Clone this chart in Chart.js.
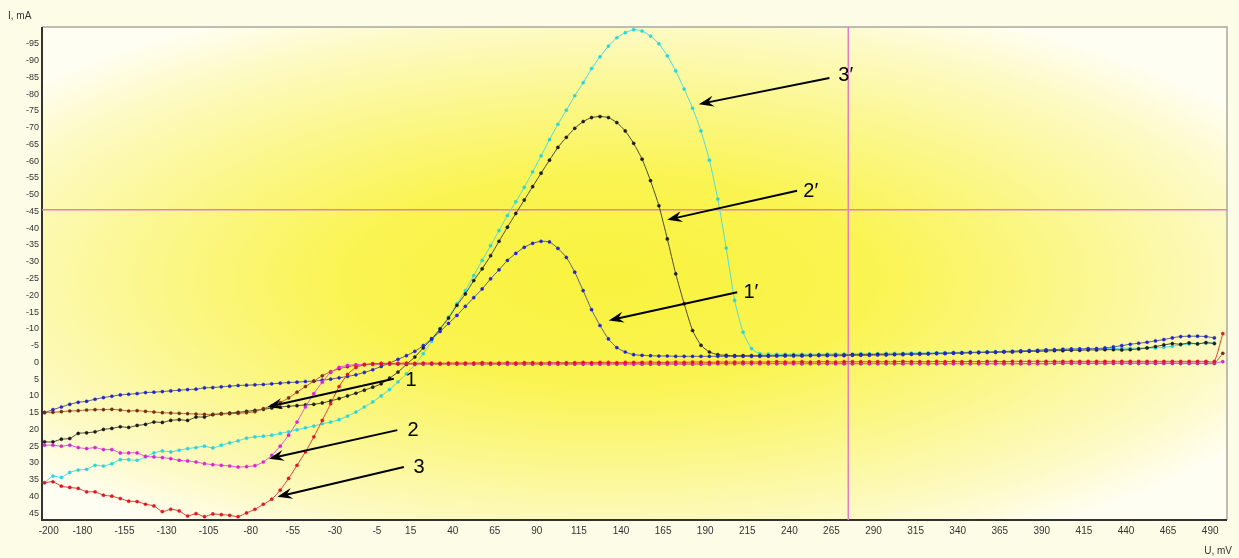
<!DOCTYPE html>
<html>
<head>
<meta charset="utf-8">
<title>I(U)</title>
<script src="https://cdn.jsdelivr.net/npm/chart.js@4.4.1/dist/chart.umd.min.js"></script>
<style>
  html, body { margin: 0; padding: 0; background: #fdfce6; }
  #wrap { width: 1239px; height: 558px; position: relative; }
</style>
</head>
<body>
<div id="wrap"><canvas id="ivChart"></canvas></div>
<script>
// Potencial U, mV (un punto cada 5 mV)
const potential = [
  -202.5,-197.5,-192.5,-187.5,-182.5,-177.5,-172.5,-167.5,-162.5,-157.5,
  -152.5,-147.5,-142.5,-137.5,-132.5,-127.5,-122.5,-117.5,-112.5,-107.5,
  -102.5,-97.5,-92.5,-87.5,-82.5,-77.5,-72.5,-67.5,-62.5,-57.5,
  -52.5,-47.5,-42.5,-37.5,-32.5,-27.5,-22.5,-17.5,-12.5,-7.5,
  -2.5,2.5,7.5,12.5,17.5,22.5,27.5,32.5,37.5,42.5,
  47.5,52.5,57.5,62.5,67.5,72.5,77.5,82.5,87.5,92.5,
  97.5,102.5,107.5,112.5,117.5,122.5,127.5,132.5,137.5,142.5,
  147.5,152.5,157.5,162.5,167.5,172.5,177.5,182.5,187.5,192.5,
  197.5,202.5,207.5,212.5,217.5,222.5,227.5,232.5,237.5,242.5,
  247.5,252.5,257.5,262.5,267.5,272.5,277.5,282.5,287.5,292.5,
  297.5,302.5,307.5,312.5,317.5,322.5,327.5,332.5,337.5,342.5,
  347.5,352.5,357.5,362.5,367.5,372.5,377.5,382.5,387.5,392.5,
  397.5,402.5,407.5,412.5,417.5,422.5,427.5,432.5,437.5,442.5,
  447.5,452.5,457.5,462.5,467.5,472.5,477.5,482.5,487.5,492.5,
  497.5
];

// Corriente I, mA - curva azul (pico 1')
const blueCurve = [
  15.0,14.1,13.3,12.5,11.9,11.6,11.0,10.5,10.1,9.7,
  9.5,9.3,9.0,8.9,8.7,8.5,8.3,8.1,8.0,7.6,
  7.5,7.3,7.1,6.9,6.8,6.7,6.6,6.4,6.2,6.0,
  5.9,5.7,5.6,5.3,5.0,4.6,4.2,3.7,3.0,2.2,
  1.2,0.2,-0.9,-2.0,-3.3,-5.0,-7.0,-9.2,-11.6,-14.0,
  -16.7,-19.3,-21.9,-24.9,-27.6,-30.4,-32.5,-34.3,-35.5,-36.1,
  -35.9,-34.0,-31.3,-26.9,-21.4,-15.7,-11.0,-7.0,-4.4,-3.1,
  -2.3,-2.1,-2.0,-1.9,-1.9,-1.8,-1.8,-1.8,-1.8,-1.8,
  -1.8,-1.8,-1.8,-1.8,-1.8,-1.8,-1.8,-1.9,-1.9,-1.9,
  -1.9,-2.0,-2.0,-2.0,-2.0,-2.0,-2.1,-2.1,-2.1,-2.2,
  -2.2,-2.3,-2.3,-2.4,-2.4,-2.5,-2.6,-2.6,-2.7,-2.8,
  -2.9,-3.0,-3.0,-3.1,-3.2,-3.3,-3.4,-3.5,-3.6,-3.7,
  -3.8,-3.9,-4.0,-4.0,-4.1,-4.1,-4.3,-4.6,-5.0,-5.4,
  -5.7,-6.0,-6.4,-6.8,-7.3,-7.7,-7.8,-7.8,-7.7,-7.3,
  null
];

// curva negra (pico 2')
const blackCurve = [
  23.7,23.7,22.9,22.7,21.2,21.0,20.7,20.0,19.7,19.2,
  19.4,18.8,18.5,17.8,17.9,17.3,17.1,17.3,16.3,16.3,
  15.6,15.3,15.1,14.9,14.6,14.3,14.0,13.6,13.3,13.1,
  12.9,12.7,12.5,12.1,11.5,10.8,10.0,9.2,8.3,7.4,
  6.4,4.7,2.9,0.6,-1.6,-4.3,-7.0,-10.0,-13.2,-17.0,
  -20.4,-24.4,-27.9,-31.8,-36.1,-40.3,-44.4,-48.4,-52.4,-56.4,
  -60.3,-64.1,-67.1,-69.8,-71.8,-73.0,-73.3,-73.0,-71.5,-69.0,
  -65.3,-60.6,-54.2,-46.7,-36.8,-26.4,-17.5,-9.5,-5.1,-3.1,
  -2.3,-2.1,-2.0,-2.0,-2.0,-2.0,-2.0,-2.0,-2.1,-2.1,
  -2.1,-2.1,-2.2,-2.2,-2.2,-2.2,-2.3,-2.3,-2.3,-2.4,
  -2.4,-2.4,-2.5,-2.5,-2.6,-2.6,-2.7,-2.7,-2.8,-2.8,
  -2.9,-2.9,-3.0,-3.0,-3.1,-3.1,-3.2,-3.3,-3.3,-3.4,
  -3.5,-3.5,-3.6,-3.6,-3.7,-3.7,-3.8,-3.8,-3.7,-3.8,
  -4.0,-4.3,-4.7,-5.2,-5.6,-5.4,-5.8,-5.5,-5.9,-5.6,
  null
];

// curva cian (pico 3')
const cyanCurve = [
  35.9,33.9,34.3,32.8,32.1,31.9,30.7,30.9,30.2,29.0,
  29.0,29.2,28.2,27.0,26.4,26.7,26.2,25.7,25.4,25.0,
  25.5,24.7,24.0,23.4,22.6,22.2,22.0,21.7,21.2,20.7,
  20.1,19.5,19.0,18.3,17.8,17.1,16.0,14.8,13.3,11.8,
  10.0,8.1,5.8,3.4,0.7,-2.6,-6.3,-10.0,-13.5,-17.5,
  -21.4,-25.9,-30.4,-34.8,-39.3,-43.8,-47.9,-52.2,-56.8,-61.6,
  -66.4,-71.0,-75.2,-79.5,-83.4,-87.6,-91.1,-94.3,-96.8,-98.3,
  -99.2,-98.8,-97.3,-95.0,-91.4,-86.9,-81.5,-75.8,-69.0,-60.3,
  -48.7,-34.1,-18.5,-9.0,-4.1,-2.6,-2.5,-2.4,-2.4,-2.4,
  -2.4,-2.4,-2.4,-2.5,-2.5,-2.5,-2.5,-2.6,-2.6,-2.6,
  -2.7,-2.7,-2.7,-2.8,-2.8,-2.8,-2.9,-2.9,-3.0,-3.0,
  -3.1,-3.1,-3.2,-3.2,-3.3,-3.3,-3.4,-3.5,-3.6,-3.7,
  -3.8,-3.9,-3.9,-4.0,-4.0,-4.1,-4.1,-4.1,-4.2,-4.2,
  -4.2,-4.3,-4.3,-4.5,-4.8,-5.2,-5.5,-5.6,-5.7,-5.8,
  null
];

// curva marron (1)
const brownCurve = [
  14.9,14.9,14.7,14.5,14.4,14.2,14.1,14.1,14.0,14.2,
  14.5,14.4,14.6,14.8,15.0,15.1,15.2,15.3,15.4,15.5,
  15.5,15.4,15.3,15.2,15.0,14.7,13.8,13.0,12.0,10.6,
  8.9,7.2,5.6,4.0,2.8,1.9,1.3,0.9,0.7,0.6,
  0.5,0.5,0.5,0.5,0.5,0.5,0.5,0.5,0.5,0.5,
  0.5,0.5,0.5,0.5,0.5,0.5,0.5,0.5,0.5,0.5,
  0.5,0.5,0.5,0.5,0.5,0.5,0.5,0.5,0.5,0.5,
  0.5,0.5,0.5,0.5,0.5,0.5,0.5,0.5,0.5,0.5,
  0.4,0.4,0.4,0.4,0.4,0.4,0.4,0.4,0.4,0.4,
  0.4,0.4,0.4,0.4,0.4,0.4,0.4,0.4,0.4,0.4,
  0.4,0.4,0.4,0.4,0.4,0.4,0.4,0.4,0.4,0.4,
  0.4,0.4,0.4,0.4,0.4,0.4,0.4,0.4,0.4,0.4,
  0.3,0.3,0.3,0.3,0.3,0.3,0.3,0.3,0.3,0.3,
  0.3,0.3,0.3,0.3,0.3,0.3,0.3,0.3,0.3,0.3,
  -2.7
];

// curva magenta (2)
const magentaCurve = [
  24.7,24.7,25.0,24.7,25.4,25.7,25.4,26.0,26.0,27.0,
  27.0,27.0,28.0,28.2,28.4,28.7,29.2,29.4,29.7,30.2,
  30.5,30.7,30.9,31.2,31.1,30.8,29.7,27.7,25.0,21.7,
  17.8,13.3,9.3,5.9,3.0,1.5,0.9,0.7,0.6,0.5,
  0.4,0.4,0.4,0.4,0.4,0.4,0.4,0.4,0.4,0.4,
  0.4,0.4,0.4,0.4,0.4,0.4,0.4,0.4,0.4,0.4,
  0.4,0.4,0.4,0.4,0.4,0.4,0.4,0.4,0.4,0.4,
  0.4,0.4,0.4,0.4,0.4,0.4,0.4,0.4,0.4,0.4,
  0.3,0.3,0.3,0.3,0.3,0.3,0.3,0.3,0.3,0.3,
  0.3,0.3,0.3,0.3,0.3,0.3,0.3,0.3,0.3,0.3,
  0.3,0.3,0.3,0.3,0.3,0.3,0.3,0.3,0.3,0.3,
  0.3,0.3,0.3,0.3,0.3,0.3,0.3,0.3,0.3,0.3,
  0.2,0.2,0.2,0.2,0.2,0.2,0.2,0.2,0.2,0.2,
  0.2,0.2,0.2,0.2,0.2,0.2,0.2,0.2,0.2,0.2,
  -0.2
];

// curva roja (3)
const redCurve = [
  35.9,35.6,36.9,37.3,37.6,38.6,38.6,39.6,39.9,40.6,
  41.4,41.5,42.3,42.8,44.5,43.8,44.3,45.8,45.1,46.0,
  45.2,45.4,45.6,46.0,44.9,43.8,42.3,40.8,38.1,34.6,
  30.7,26.7,22.2,17.3,12.3,7.2,3.6,1.5,0.7,0.4,
  0.3,0.3,0.3,0.2,0.3,0.2,0.2,0.3,0.2,0.2,
  0.2,0.2,0.1,0.2,0.2,0.1,0.2,0.1,0.1,0.2,
  0.1,0.1,0.1,0.1,0.0,0.1,0.0,0.0,0.1,0.0,
  0.0,0.0,-0.1,0.0,0.0,-0.1,0.0,-0.1,-0.1,0.0,
  -0.1,-0.1,-0.1,-0.1,-0.1,-0.1,-0.1,-0.2,-0.1,-0.1,
  -0.2,-0.1,-0.2,-0.2,-0.1,-0.2,-0.2,-0.2,-0.2,-0.2,
  -0.2,-0.2,-0.3,-0.2,-0.2,-0.2,-0.3,-0.2,-0.3,-0.2,
  -0.3,-0.2,-0.3,-0.3,-0.2,-0.3,-0.3,-0.3,-0.3,-0.3,
  -0.3,-0.3,-0.3,-0.3,-0.3,-0.3,-0.3,-0.3,-0.3,-0.3,
  -0.3,-0.3,-0.3,-0.3,-0.3,-0.3,-0.3,-0.3,-0.3,-0.3,
  -8.6
];

// Etiquetas de los ejes
const uTicks = [-200, -180, -155, -130, -105, -80, -55, -30, -5, 15, 40, 65, 90, 115, 140,
  165, 190, 215, 240, 265, 290, 315, 340, 365, 390, 415, 440, 465, 490];
const iTicks = [-95, -90, -85, -80, -75, -70, -65, -60, -55, -50, -45, -40, -35, -30, -25,
  -20, -15, -10, -5, 0, 5, 10, 15, 20, 25, 30, 35, 40, 45];

// Rango de los ejes y cursor
const uRange = [-204, 500];
const iRange = [-100, 47];
const cursorU = 275;
const cursorI = -45.5;

// Flechas con numeros de curva (coordenadas en U, I)
const arrowNotes = [
  { text: '3\u2032', from: [263.8, -84.8], to: [186.2, -77.0], at: [269.1, -85.4] },
  { text: '2\u2032', from: [244.6, -51.2], to: [167.4, -42.5], at: [248.3, -50.9] },
  { text: '1\u2032', from: [209.0, -20.9], to: [132.7, -12.5], at: [212.7, -20.8] },
  { text: '1', from: [5.0, 4.9], to: [-70.1, 13.3], at: [12.0, 5.4] },
  { text: '2', from: [7.1, 20.2], to: [-69.2, 28.7], at: [13.2, 20.2] },
  { text: '3', from: [11.0, 31.2], to: [-64.2, 40.1], at: [16.7, 31.3] }
];

function toPoints(values) {
  return potential.map((u, i) => ({ x: u, y: values[i] }));
}

function serie(values, dotColor, lineColor) {
  return {
    data: toPoints(values),
    borderColor: lineColor,
    backgroundColor: dotColor,
    pointBackgroundColor: dotColor,
    pointBorderColor: dotColor,
    pointRadius: 1.6,
    pointBorderWidth: 0.4,
    borderWidth: 1,
    tension: 0.2,
    spanGaps: false
  };
}

// Fondo amarillo degradado
const backgroundPlugin = {
  id: 'fondo',
  beforeDraw(chart) {
    const { ctx, chartArea: a, width, height } = chart;
    ctx.save();
    ctx.fillStyle = '#fdfce6';
    ctx.fillRect(0, 0, width, height);
    ctx.beginPath();
    ctx.rect(a.left, a.top, a.right - a.left, a.bottom - a.top);
    ctx.clip();
    const cx = 610, cy = 280, rx = 760, ry = 300;
    ctx.translate(cx, cy);
    ctx.scale(1, ry / rx);
    const g = ctx.createRadialGradient(0, 0, 0, 0, 0, rx);
    g.addColorStop(0, '#f9f23e');
    g.addColorStop(0.35, '#faf452');
    g.addColorStop(0.6, '#fbf78a');
    g.addColorStop(0.85, '#fdfac6');
    g.addColorStop(1, '#fffef2');
    ctx.fillStyle = g;
    ctx.fillRect(-rx * 1.5, -rx * 1.5, rx * 3, rx * 3);
    ctx.restore();
  },
  beforeDatasetsDraw(chart) {
    const { ctx, chartArea: a } = chart;
    ctx.save();
    ctx.lineWidth = 1.5;
    ctx.strokeStyle = '#a8a8a0';
    ctx.beginPath();
    ctx.moveTo(a.left, a.top);
    ctx.lineTo(a.right, a.top);
    ctx.lineTo(a.right, a.bottom);
    ctx.stroke();
    ctx.lineWidth = 2;
    ctx.strokeStyle = '#333333';
    ctx.beginPath();
    ctx.moveTo(a.left, a.top);
    ctx.lineTo(a.left, a.bottom);
    ctx.lineTo(a.right, a.bottom);
    ctx.stroke();
    ctx.restore();
  }
};

function drawArrow(ctx, x1, y1, x2, y2) {
  const ang = Math.atan2(y2 - y1, x2 - x1);
  const c = Math.cos(ang), s = Math.sin(ang);
  const len = 15, half = 5.5;
  ctx.beginPath();
  ctx.moveTo(x1, y1);
  ctx.lineTo(x2 - c * len * 0.6, y2 - s * len * 0.6);
  ctx.stroke();
  ctx.beginPath();
  ctx.moveTo(x2, y2);
  ctx.lineTo(x2 - c * len + s * half, y2 - s * len - c * half);
  ctx.lineTo(x2 - c * len * 0.65, y2 - s * len * 0.65);
  ctx.lineTo(x2 - c * len - s * half, y2 - s * len + c * half);
  ctx.closePath();
  ctx.fill();
}

// Flechas, numeros y titulos de ejes
const notesPlugin = {
  id: 'notas',
  afterDatasetsDraw(chart) {
    const { ctx } = chart;
    const xs = chart.scales.x, ys = chart.scales.y;
    ctx.save();
    ctx.strokeStyle = '#000';
    ctx.fillStyle = '#000';
    ctx.lineWidth = 2;
    arrowNotes.forEach(n => {
      drawArrow(ctx,
        xs.getPixelForValue(n.from[0]), ys.getPixelForValue(n.from[1]),
        xs.getPixelForValue(n.to[0]), ys.getPixelForValue(n.to[1]));
      ctx.font = '20px "Liberation Sans Narrow", "Liberation Sans", Arial, sans-serif';
      ctx.textAlign = 'left';
      ctx.textBaseline = 'middle';
      ctx.fillText(n.text, xs.getPixelForValue(n.at[0]), ys.getPixelForValue(n.at[1]));
    });
    ctx.fillStyle = '#333';
    ctx.font = '10px "Liberation Sans", Arial, sans-serif';
    ctx.textBaseline = 'middle';
    ctx.textAlign = 'left';
    ctx.fillText('I, mA', 8, 16);
    ctx.textAlign = 'right';
    ctx.fillText('U, mV', 1232, 551);
    ctx.restore();
  }
};

document.addEventListener('DOMContentLoaded', function() {
  const ctx = document.getElementById('ivChart').getContext('2d');
  new Chart(ctx, {
    type: 'line',
    data: {
      datasets: [
        serie(redCurve, '#e3141c', '#e0403a'),
        serie(magentaCurve, '#e020d8', '#e058d4'),
        serie(brownCurve, '#7a2a10', '#b0603a'),
        serie(blueCurve, '#2222dd', '#58607a'),
        serie(blackCurve, '#1a1a1a', '#4a4a30'),
        serie(cyanCurve, '#22d8e0', '#55dada'),
        {
          data: [{ x: uRange[0], y: cursorI }, { x: uRange[1], y: cursorI }],
          borderColor: '#e77cc0', borderWidth: 1.5, pointRadius: 0, tension: 0
        },
        {
          data: [{ x: cursorU, y: iRange[0] }, { x: cursorU, y: iRange[1] }],
          borderColor: '#e77cc0', borderWidth: 1.5, pointRadius: 0, tension: 0
        }
      ]
    },
    options: {
      responsive: true,
      maintainAspectRatio: false,
      animation: false,
      devicePixelRatio: 1,
      layout: { padding: { top: 27, right: 12, left: 0, bottom: 0 } },
      plugins: {
        legend: { display: false },
        tooltip: { enabled: false }
      },
      scales: {
        x: {
          type: 'linear',
          min: uRange[0],
          max: uRange[1],
          afterBuildTicks: s => { s.ticks = uTicks.map(v => ({ value: v })); },
          afterFit: s => { s.height = 38; },
          grid: { display: false, drawTicks: false },
          border: { display: false },
          ticks: {
            autoSkip: false, maxRotation: 0, padding: 5,
            color: '#333',
            font: { family: '"Liberation Sans", Arial, sans-serif', size: 10 },
            callback: v => String(v)
          }
        },
        y: {
          type: 'linear',
          reverse: true,
          min: iRange[0],
          max: iRange[1],
          afterBuildTicks: s => { s.ticks = iTicks.map(v => ({ value: v })); },
          afterFit: s => { s.width = 42; },
          grid: { display: false, drawTicks: false },
          border: { display: false },
          ticks: {
            autoSkip: false, padding: 3,
            color: '#333',
            font: { family: '"Liberation Sans", Arial, sans-serif', size: 9 },
            callback: v => String(v)
          }
        }
      }
    },
    plugins: [backgroundPlugin, notesPlugin]
  });
});
</script>
</body>
</html>
